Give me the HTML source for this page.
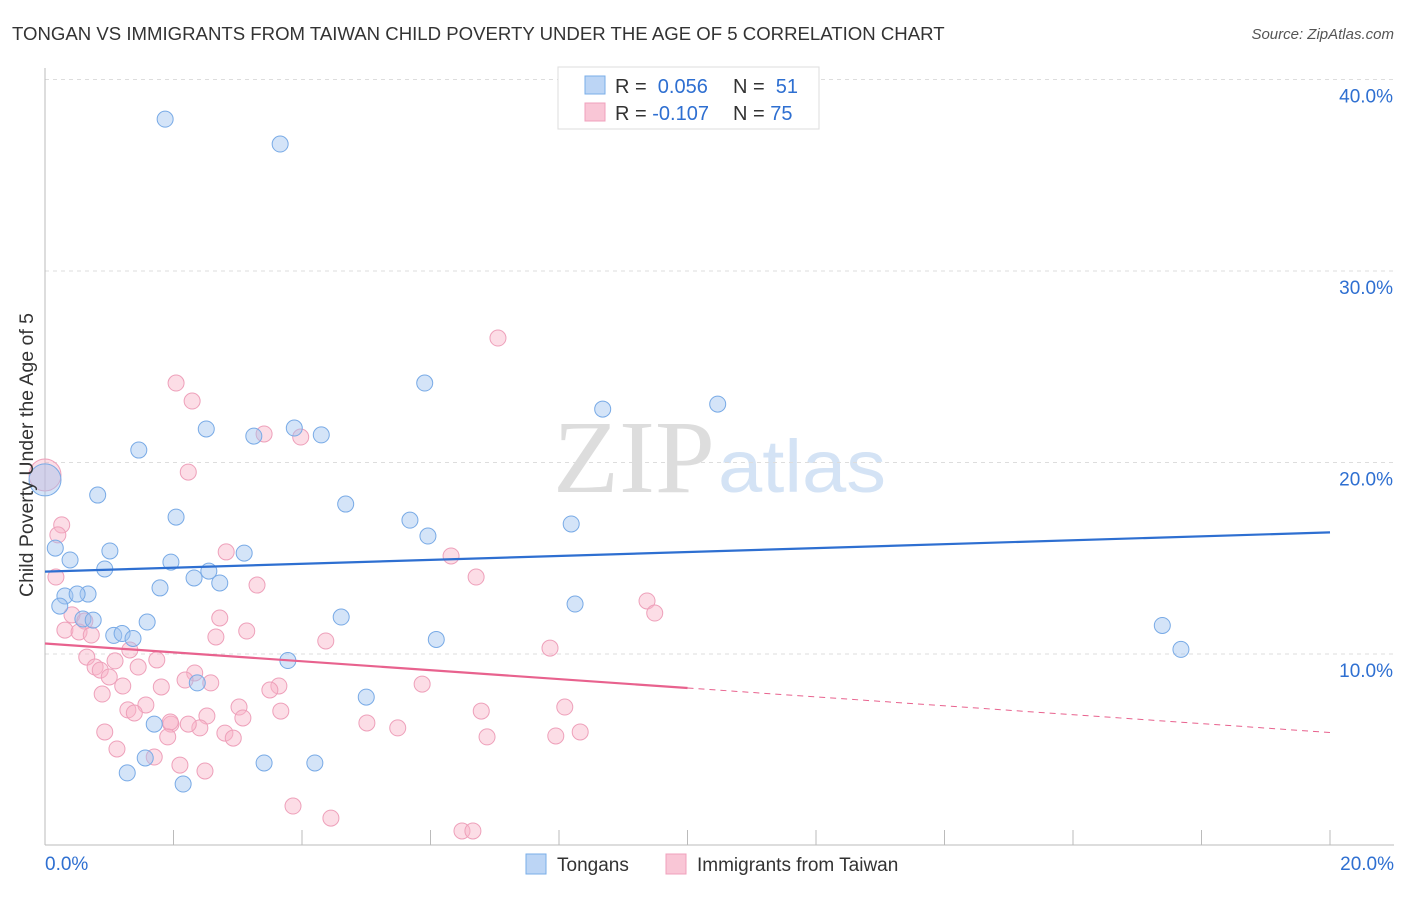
<!DOCTYPE html>
<html><head><meta charset="utf-8"><style>
body{margin:0;background:#fff;font-family:"Liberation Sans",sans-serif}
</style></head><body>
<svg width="1406" height="892" id="chart" xmlns="http://www.w3.org/2000/svg">
<text x="12" y="40" font-size="18.6" fill="#333">TONGAN VS IMMIGRANTS FROM TAIWAN CHILD POVERTY UNDER THE AGE OF 5 CORRELATION CHART</text>
<text x="1394" y="39" font-size="15" fill="#555" font-style="italic" text-anchor="end">Source: ZipAtlas.com</text>
<g><text x="553" y="492" font-size="104" font-family="Liberation Serif" fill="#ddd" textLength="162" lengthAdjust="spacingAndGlyphs">ZIP</text><text x="718" y="492" font-size="74" fill="#d4e3f5" textLength="168" lengthAdjust="spacingAndGlyphs">atlas</text></g>
<g id="grid"></g><g id="axes"></g><g id="marks"></g>
<text transform="translate(33,455) rotate(-90)" font-size="19.5" fill="#333" text-anchor="middle">Child Poverty Under the Age of 5</text>
<g>
<rect x="558" y="67" width="261" height="62" fill="#fff" stroke="#ddd"/>
<rect x="585" y="76" width="20" height="18" fill="#bcd5f5" stroke="#7aaee8"/>
<rect x="585" y="103" width="20" height="18" fill="#f9c6d6" stroke="#f0a0bc"/>
<text x="615" y="93" font-size="20" fill="#333">R = <tspan fill="#2e6fd1">&#160;0.056</tspan><tspan x="733">N = </tspan><tspan fill="#2e6fd1">&#160;51</tspan></text>
<text x="615" y="120" font-size="20" fill="#333">R = <tspan fill="#2e6fd1">-0.107</tspan><tspan x="733">N = </tspan><tspan fill="#2e6fd1">75</tspan></text>
</g>
<g>
<rect x="526" y="854" width="20" height="20" fill="#bcd5f5" stroke="#7aaee8"/>
<text x="557" y="871" font-size="19" fill="#333">Tongans</text>
<rect x="666" y="854" width="20" height="20" fill="#f9c6d6" stroke="#f0a0bc"/>
<text x="697" y="871" font-size="19" fill="#333">Immigrants from Taiwan</text>
</g>
</svg>
<script>
const blueX=[1.87,3.66,5.91,8.68,10.47,2.51,3.25,3.88,4.30,1.46,0.82,4.68,2.04,5.68,5.96,8.19,0,0.16,1.01,0.39,1.96,3.10,0.93,2.55,2.32,2.72,1.79,0.31,0.67,0.50,0.23,0.59,0.75,1.59,4.61,8.25,1.07,1.20,1.37,6.09,17.39,17.68,3.78,2.37,5.00,1.70,1.56,1.28,2.15,3.41,4.20];
const blueY=[37.93,36.63,24.15,22.79,23.05,21.75,21.38,21.80,21.44,20.65,18.30,17.83,17.15,16.99,16.16,16.79,19.09,15.53,15.38,14.91,14.80,15.27,14.44,14.33,13.97,13.71,13.45,13.03,13.13,13.13,12.50,11.83,11.77,11.67,11.93,12.61,10.97,11.07,10.81,10.76,11.49,10.24,9.66,8.49,7.75,6.34,4.57,3.79,3.21,4.31,4.31];
const pinkX=[7.05,2.04,2.29,3.41,3.98,2.23,0,0.26,0.20,2.82,6.32,6.71,0.17,3.30,9.37,9.49,0.42,0.62,2.72,0.31,0.53,0.72,3.14,2.66,4.37,7.86,1.32,0.65,1.09,1.74,0.78,1.45,0.86,2.33,1.00,1.21,2.18,2.58,3.64,3.50,1.81,0.89,5.87,3.02,1.29,1.57,1.39,3.67,2.52,3.08,1.96,2.41,6.79,8.09,1.95,2.23,5.01,5.49,0.93,2.80,2.93,1.91,6.88,7.95,8.33,1.12,1.70,2.10,2.49,3.86,4.45,6.49,6.66];
const pinkY=[26.50,24.15,23.21,21.49,21.33,19.50,19.35,16.74,16.22,15.33,15.12,14.02,14.02,13.60,12.77,12.14,12.04,11.72,11.88,11.25,11.15,10.99,11.20,10.89,10.68,10.31,10.21,9.84,9.64,9.69,9.32,9.32,9.16,9.01,8.80,8.33,8.64,8.49,8.33,8.12,8.28,7.91,8.43,7.23,7.08,7.34,6.92,7.02,6.76,6.66,6.34,6.14,7.02,7.23,6.45,6.34,6.40,6.14,5.93,5.87,5.61,5.67,5.67,5.72,5.93,5.04,4.62,4.20,3.89,2.06,1.43,0.76,0.76];
const yTicks=[10,20,30,40];
const yTickLabels=["10.0%","20.0%","30.0%","40.0%"];
const blueTrend=[14.3,16.35];
const pinkTrend=[10.55,5.9];
const NS="http://www.w3.org/2000/svg";
const sx=v=>45+v/20*1285, sy=v=>845.5-v*19.15;
function mk(t,a,p){const e=document.createElementNS(NS,t);for(const k in a)e.setAttribute(k,a[k]);document.getElementById(p).appendChild(e);return e;}
yTicks.forEach((t,i)=>{
 const g=mk('line',{x1:45,x2:1394,y1:sy(t),y2:sy(t),stroke:'#ddd','stroke-dasharray':'4,4'},'grid');
 
 
 const l=mk('text',{x:1393,y:sy(t)+23,'font-size':19,fill:'#2e6fd1','text-anchor':'end'},'axes');
 l.textContent=yTickLabels[i];
 
 
});
const ya=mk('line',{x1:45,x2:45,y1:68,y2:845,stroke:'#bbb'},'axes');


const xa=mk('line',{x1:45,x2:1394,y1:845,y2:845,stroke:'#bbb'},'axes');


for(let i=0;i<=10;i++){const t=mk('line',{x1:sx(i*2),x2:sx(i*2),y1:830,y2:845,stroke:'#bbb'},'axes');
 
 }
[[0,"0.0%",'start',45],[20,"20.0%",'end',1394]].forEach(d=>{const l=mk('text',{x:d[3],y:870,'font-size':19,fill:'#2e6fd1','text-anchor':d[2]},'axes');l.textContent=d[1];
 
 });
function pts(X,Y,fill,stroke,name){X.forEach((x,i)=>{const r=(x===0)?16:8;
 const c=mk('circle',{cx:sx(x),cy:sy(Y[i]),r:r,fill:fill,stroke:stroke,'stroke-width':1},'marks');
 
 });}
pts(pinkX,pinkY,'rgba(248,180,200,0.45)','#eea0ba','taiwan-point');
pts(blueX,blueY,'rgba(160,196,240,0.45)','#78aae6','tongan-point');
const bt=mk('line',{x1:sx(0),y1:sy(blueTrend[0]),x2:sx(20),y2:sy(blueTrend[1]),stroke:'#2e6fd1','stroke-width':2.2},'marks');


const pm=pinkTrend[0]+(pinkTrend[1]-pinkTrend[0])*0.5;
const pt=mk('line',{x1:sx(0),y1:sy(pinkTrend[0]),x2:sx(10),y2:sy(pm),stroke:'#e8628e','stroke-width':2.2},'marks');


const pd=mk('line',{x1:sx(10),y1:sy(pm),x2:sx(20),y2:sy(pinkTrend[1]),stroke:'#e8628e','stroke-width':1,'stroke-dasharray':'6,5'},'marks');


</script>
</body></html>
